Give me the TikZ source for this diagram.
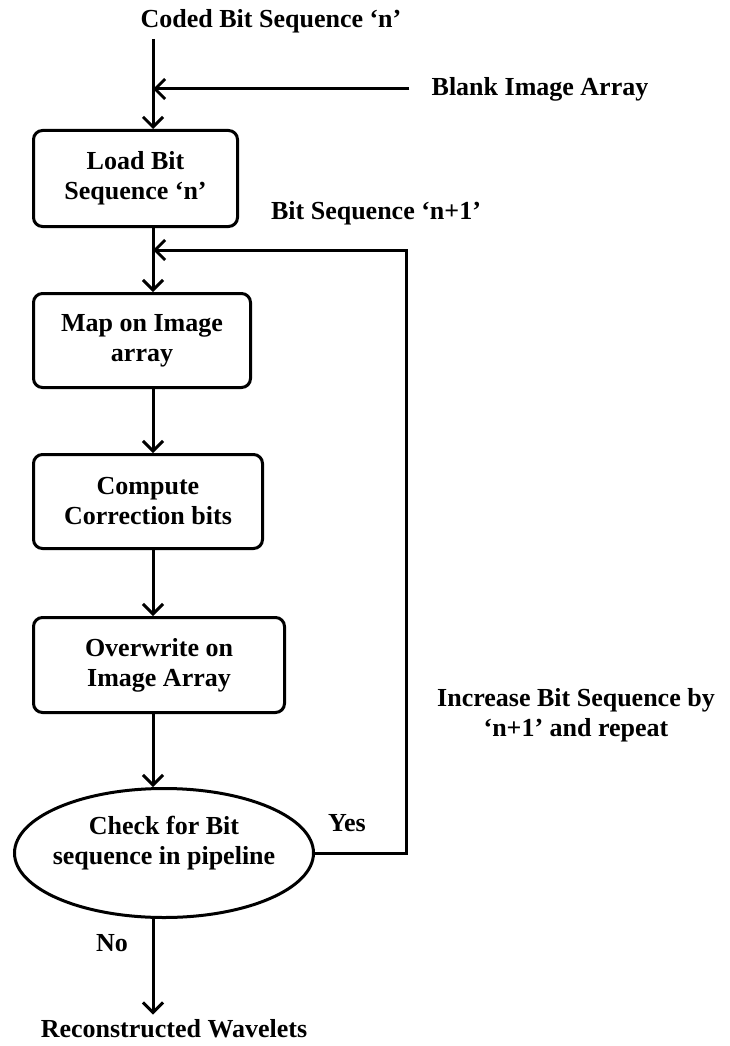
\documentclass[tikz,border=0pt]{standalone}
\usepackage{fontspec}
\setmainfont{Liberation Serif}
\usetikzlibrary{arrows.meta,shapes.geometric}
\begin{document}
\begin{tikzpicture}[x=1pt,y=1pt,
  txt/.style={font=\bfseries\fontsize{26}{30}\selectfont, inner sep=0pt, align=center},
  procbox/.style={txt, draw, line width=3pt, rounded corners=9pt},
  arr/.style={line width=3pt, -{Straight Barb[length=10pt,width=20pt]}}]
\useasboundingbox (0,0) rectangle (730,-1046);
\coordinate (m) at (153,0);
% texts
\node[txt] (title) at (271,-21) {Coded Bit Sequence ‘n’};
\coordinate (top) at (153,-39);
\node[txt] (blank) at (540,-89) {Blank Image Array};
\node[txt] (nplus) at (376,-213) {Bit Sequence ‘n+1’};
\node[txt] (incr) at (576,-715) {Increase Bit Sequence by\\‘n+1’ and repeat};
\node[txt] (yes) at (347,-823) {Yes};
\node[txt] (no) at (112,-943) {No};
\node[txt] (recon) at (174,-1029) {Reconstructed Wavelets};
% boxes
\node[procbox, minimum width=204pt, minimum height=96pt] (load) at (135.5,-178.5) {Load Bit\\Sequence ‘n’};
\node[procbox, minimum width=217pt, minimum height=94pt] (map) at (142,-340.5) {Map on Image\\array};
\node[procbox, minimum width=229pt, minimum height=94pt] (comp) at (148,-501.5) {Compute\\Correction bits};
\node[procbox, minimum width=251pt, minimum height=95pt] (over) at (159,-665) {Overwrite on\\Image Array};
\node[ellipse, draw, line width=3pt, minimum width=299pt, minimum height=129pt, inner sep=0pt] (chk) at (164,-853) {};
\node[txt] (chkt) at (164,-843) {Check for Bit\\sequence in pipeline};
\coordinate (loopc) at (406,-250);
% connectors
\draw[arr] (top) -- (load.north -| m);
\draw[arr] ([xshift=-22pt]blank.west) -- (blank.west -| m);
\draw[arr] (chk.east) -| (loopc) -- (loopc -| m);
\draw[arr] (load.south -| m) -- (map.north -| m);
\draw[arr] (map.south -| m) -- (comp.north -| m);
\draw[arr] (comp.south -| m) -- (over.north -| m);
\draw[arr] (over.south -| m) -- (chk.north -| m);
\draw[arr] (chk.south -| m) -- ([yshift=5pt]recon.north -| m);
\end{tikzpicture}
\end{document}
